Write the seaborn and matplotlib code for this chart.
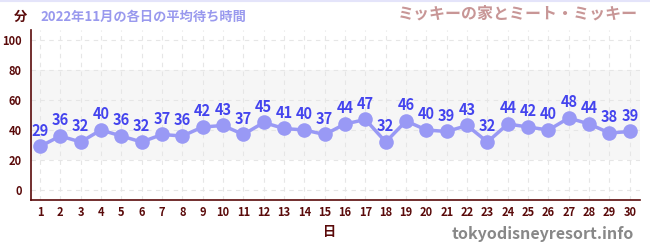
import matplotlib
matplotlib.use("Agg")
import matplotlib.pyplot as plt
import seaborn as sns
import pandas as pd
from matplotlib.ticker import MultipleLocator

days = list(range(1, 31))
waits = [29, 36, 32, 40, 36, 32, 37, 36, 42, 43, 37, 45, 41, 40, 37,
         44, 47, 32, 46, 40, 39, 43, 32, 44, 42, 40, 48, 44, 38, 39]
title_left = "2022年11月の各日の平均待ち時間"
title_right = "ミッキーの家とミート・ミッキー"
y_unit = "分"
x_unit = "日"
watermark = "tokyodisneyresort.info"

sns.set_style("white")
plt.rcParams['font.family'] = ['Noto Sans CJK JP', 'DejaVu Sans']

df = pd.DataFrame({"day": days, "wait": waits})

fig = plt.figure(figsize=(6.5, 2.5), dpi=100)
ax = fig.add_axes([31/650, 0.2, (640-31)/650, 0.68])

ax.axhspan(20, 80, color="#f6f6f6", zorder=0, lw=0)
sns.lineplot(data=df, x="day", y="wait", ax=ax, color="#9999f5", lw=2.5,
             marker="o", markersize=10.5, markeredgewidth=0, zorder=3)
for d, w in zip(days, waits):
    ax.annotate(str(w), (d, w), xytext=(0, 5.5), textcoords="offset points",
                ha="center", va="bottom", color="#4444ee", fontsize=10.5,
                fontweight="bold", zorder=4)

ax.set_xlim(0.56, 30.5)
ax.set_ylim(-6.67, 106.67)
ax.set_xticks(days)
ax.yaxis.set_major_locator(MultipleLocator(20))
ax.yaxis.set_minor_locator(MultipleLocator(10))
ax.grid(True, which="major", color="#e6e6e6", ls=(0, (4, 4)), lw=0.8)
ax.set_axisbelow(True)
for s in ["top", "right"]:
    ax.spines[s].set_visible(False)
for s in ["left", "bottom"]:
    ax.spines[s].set_color("#5a0a0a")
    ax.spines[s].set_linewidth(1.2)
ax.tick_params(axis="both", which="major", direction="inout", length=6,
               color="#333333", labelcolor="#5a0a0a", labelsize=8)
ax.tick_params(axis="y", which="minor", direction="out", length=3, color="#ee2222")
ax.tick_params(axis="x", which="major", color="#555555", pad=1)
for lab in ax.get_xticklabels() + ax.get_yticklabels():
    lab.set_fontweight("bold")
ax.set_xlabel("")
ax.set_ylabel("")

fig.text(20/650, 1-17/250, y_unit, color="#5a0a0a", fontsize=9.5, fontweight="bold",
         ha="center", va="center")
fig.text(40/650, 1-17/250, title_left, color="#9999ee", fontsize=9.5, fontweight="bold",
         ha="left", va="center")
fig.text(638/650, 1-14/250, title_right, color="#c89696", fontsize=11.5,
         fontweight="bold", ha="right", va="center")
fig.text(330/650, 1-232/250, x_unit, color="#5a0a0a", fontsize=9.5, fontweight="bold",
         ha="center", va="center")
fig.text(634/650, 1-234/250, watermark, color="#888888", fontsize=11.5,
         fontweight="bold", ha="right", va="center")
fig.add_artist(plt.Line2D([0, 1], [0.998, 0.998], color="#e4e4fa", lw=1.5,
                          transform=fig.transFigure))

fig.savefig("out.png", dpi=100)
